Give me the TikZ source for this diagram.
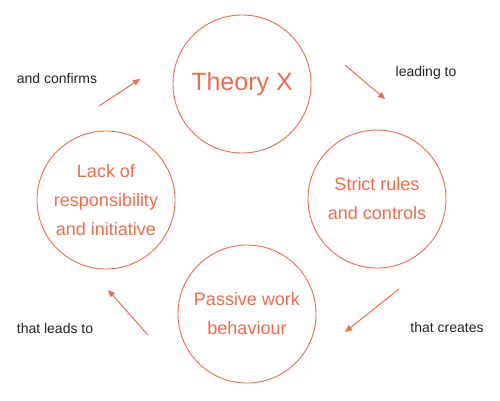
\documentclass[tikz,border=0pt]{standalone}
\usepackage{fontspec}
\setmainfont{Liberation Sans}
\usetikzlibrary{arrows.meta}
\definecolor{accent}{RGB}{238,108,76}
\definecolor{labelink}{RGB}{34,34,34}
\tikzset{
  stage/.style={circle,draw=accent,line width=0.9pt,minimum size=138pt,inner sep=0pt,
    text=accent,align=center,font=\fontsize{18}{29}\selectfont},
  title/.style={stage,font=\fontsize{25}{30}\selectfont},
  flow/.style={draw=accent,line width=1pt,-{Triangle[length=7pt,width=6pt]}},
  note/.style={text=labelink,font=\fontsize{14}{16}\selectfont,inner sep=0pt}
}
\begin{document}
\begin{tikzpicture}[x=1pt,y=-1pt]
\useasboundingbox (0,0) rectangle (500,400);
\node[title] (theory) at (242,84) {Theory X};
\node[stage] (strict) at (377,199) {Strict rules\\and controls};
\node[stage] (passive) at (247,314) {Passive work\\behaviour};
\node[stage] (lack) at (106,200) {Lack of\\responsibility\\and initiative};

\coordinate (a1s) at (99,106);  \coordinate (a1e) at (140,79);
\coordinate (a2s) at (345,65);  \coordinate (a2e) at (385,99);
\coordinate (a3s) at (399,289); \coordinate (a3e) at (345,332);
\coordinate (a4s) at (148,335); \coordinate (a4e) at (108,290);

\draw[flow] (a1s) -- (a1e);
\draw[flow] (a2s) -- (a2e);
\draw[flow] (a3s) -- (a3e);
\draw[flow] (a4s) -- (a4e);

\node[note] (l1) at (57,78) {and confirms};
\node[note] (l2) at (426,73) {leading to};
\node[note] (l3) at (447,327) {that creates};
\node[note] (l4) at (55,328) {that leads to};
\end{tikzpicture}
\end{document}
